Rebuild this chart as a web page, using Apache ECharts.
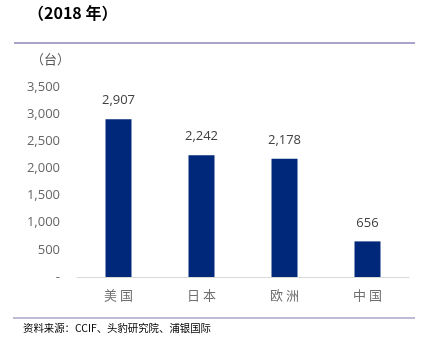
<!DOCTYPE html>
<html><head><meta charset="utf-8">
<script src="https://cdn.jsdelivr.net/npm/echarts@6/dist/echarts.min.js"></script>
<style>html,body{margin:0;padding:0;background:#fff}#c{width:422px;height:351px}</style>
</head><body><div id="c"></div>
<script>
var categories = ['美国', '日本', '欧洲', '中国'];
var values = [2907, 2242, 2178, 656];
var yTicks = [0, 500, 1000, 1500, 2000, 2500, 3000, 3500];
var titleText = '（2018 年）';
var unitText = '（台）';
var sourceText = '资料来源：CCIF、头豹研究院、浦银国际';

var chart = echarts.init(document.getElementById('c'));
var fmt = function (v) { return v === 0 ? '-' : v.toLocaleString('en-US'); };
chart.setOption({
  animation: false,
  grid: { left: 77, right: 13, top: 87, bottom: 74 },
  xAxis: {
    type: 'category', data: categories,
    axisLine: { lineStyle: { color: '#d9d9d9' } },
    axisTick: { show: false },
    axisLabel: { color: '#6f6f6f', fontSize: 13, margin: 12, fontFamily: 'Noto Sans CJK SC',
      formatter: function (v) { return v.split('').join(' '); } }
  },
  yAxis: {
    type: 'value', min: yTicks[0], max: yTicks[yTicks.length - 1], interval: 500,
    axisLine: { show: false }, axisTick: { show: false }, splitLine: { show: false },
    axisLabel: { color: '#666666', fontSize: 13, margin: 17, formatter: fmt, fontFamily: 'Open Sans' }
  },
  series: [{
    type: 'bar', data: values, barWidth: 26,
    itemStyle: { color: '#00287a' },
    label: { show: true, position: 'top', distance: 12, color: '#404040', fontSize: 13,
      fontFamily: 'Open Sans', formatter: function (p) { return fmt(p.value); } }
  }],
  graphic: [
    { type: 'text', left: 28, top: 5, style: { text: titleText, font: 'bold 16px "Noto Sans CJK SC"', fill: '#000' } },
    { type: 'line', shape: { x1: 14, y1: 43, x2: 415, y2: 43 }, style: { stroke: '#a9a4c9', lineWidth: 2 } },
    { type: 'text', left: 31, top: 53, style: { text: unitText, font: '13px "Noto Sans CJK SC"', fill: '#595959' } },
    { type: 'line', shape: { x1: 13, y1: 318, x2: 415, y2: 318 }, style: { stroke: '#a9a4c9', lineWidth: 1.5 } },
    { type: 'text', left: 23, top: 323, style: { text: sourceText, font: '10.4px "Noto Sans CJK SC"', fill: '#000' } }
  ]
});
</script></body></html>
